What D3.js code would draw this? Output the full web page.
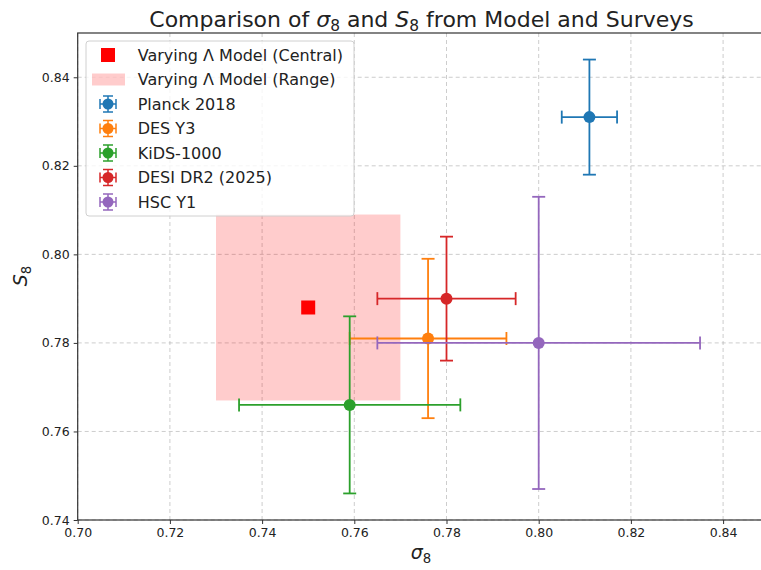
<!DOCTYPE html>
<html>
<head>
<meta charset="utf-8">
<script src="https://cdn.jsdelivr.net/npm/d3@7"></script>
<style>
  body { margin: 0; background: #fff; overflow: hidden; }
  text { font-family: "DejaVu Sans", sans-serif; fill: #222; }
</style>
</head>
<body>
<script>
// survey points
var surveys = ["Planck 2018", "DES Y3", "KiDS-1000", "DESI DR2 (2025)", "HSC Y1"];
var sigma8 = [0.811, 0.776, 0.759, 0.780, 0.800];
var sigma8Err = [0.006, 0.017, 0.024, 0.015, 0.035];
var s8 = [0.831, 0.781, 0.766, 0.790, 0.780];
var s8Err = [0.013, 0.018, 0.020, 0.014, 0.033];
var colors = ["#1f77b4", "#ff7f0e", "#2ca02c", "#d62728", "#9467bd"];

// model
var modelCentral = [0.750, 0.788];
var modelSigmaRange = [0.730, 0.770];
var modelS8Range = [0.767, 0.809];

var xTicks = [0.70, 0.72, 0.74, 0.76, 0.78, 0.80, 0.82, 0.84];
var yTicks = [0.74, 0.76, 0.78, 0.80, 0.82, 0.84];

var W = 761, H = 570;
var x = d3.scaleLinear().domain([0.70, 0.85]).range([77.7, 769.2]);
var y = d3.scaleLinear().domain([0.74, 0.850]).range([520, 33]);

var svg = d3.select("body").append("svg")
    .attr("width", W).attr("height", H);

// grid
var grid = svg.append("g");
grid.selectAll(".gx").data(xTicks).enter().append("line")
    .attr("x1", d => x(d)).attr("x2", d => x(d))
    .attr("y1", y.range()[0]).attr("y2", y.range()[1])
    .attr("stroke", "#b0b0b0").attr("stroke-opacity", 0.7)
    .attr("stroke-dasharray", "4,3").attr("stroke-width", 0.9);
grid.selectAll(".gy").data(yTicks).enter().append("line")
    .attr("y1", d => y(d)).attr("y2", d => y(d))
    .attr("x1", x.range()[0]).attr("x2", x.range()[1])
    .attr("stroke", "#b0b0b0").attr("stroke-opacity", 0.7)
    .attr("stroke-dasharray", "4,3").attr("stroke-width", 0.9);

// model range box
svg.append("rect")
    .attr("x", x(modelSigmaRange[0]))
    .attr("y", y(modelS8Range[1]))
    .attr("width", x(modelSigmaRange[1]) - x(modelSigmaRange[0]))
    .attr("height", y(modelS8Range[0]) - y(modelS8Range[1]))
    .attr("fill", "red").attr("fill-opacity", 0.2);

// central square
svg.append("rect")
    .attr("x", x(modelCentral[0]) - 7).attr("y", y(modelCentral[1]) - 7)
    .attr("width", 14).attr("height", 14)
    .attr("fill", "red");

// error bars
var cap = 6.5;
var pts = surveys.map(function(s, i) {
  return {name: s, x: sigma8[i], xe: sigma8Err[i], y: s8[i], ye: s8Err[i], c: colors[i]};
});
var eb = svg.selectAll(".eb").data(pts).enter().append("g")
    .attr("stroke", d => d.c).attr("stroke-width", 1.8);
eb.append("line")
    .attr("x1", d => x(d.x - d.xe)).attr("x2", d => x(d.x + d.xe))
    .attr("y1", d => y(d.y)).attr("y2", d => y(d.y));
eb.append("line")
    .attr("x1", d => x(d.x)).attr("x2", d => x(d.x))
    .attr("y1", d => y(d.y - d.ye)).attr("y2", d => y(d.y + d.ye));
[-1, 1].forEach(function(s) {
  eb.append("line")
    .attr("x1", d => x(d.x + s * d.xe)).attr("x2", d => x(d.x + s * d.xe))
    .attr("y1", d => y(d.y) - cap).attr("y2", d => y(d.y) + cap);
  eb.append("line")
    .attr("y1", d => y(d.y + s * d.ye)).attr("y2", d => y(d.y + s * d.ye))
    .attr("x1", d => x(d.x) - cap).attr("x2", d => x(d.x) + cap);
});
eb.append("circle")
    .attr("cx", d => x(d.x)).attr("cy", d => y(d.y)).attr("r", 6)
    .attr("fill", d => d.c).attr("stroke", "none");

// axes
var xAxis = svg.append("g").attr("transform", "translate(0," + y.range()[0] + ")")
    .call(d3.axisBottom(x).tickValues(xTicks).tickFormat(d3.format(".2f")).tickSize(4).tickPadding(4));
var yAxis = svg.append("g").attr("transform", "translate(" + x.range()[0] + ",0)")
    .call(d3.axisLeft(y).tickValues(yTicks).tickFormat(d3.format(".2f")).tickSize(4).tickPadding(4));
[xAxis, yAxis].forEach(function(a) {
  a.select(".domain").remove();
  a.selectAll("text").attr("font-size", 12.5).attr("font-family", "DejaVu Sans").attr("fill", "#222");
  a.selectAll(".tick line").attr("stroke", "#333");
});
// frame
svg.append("rect")
    .attr("x", x.range()[0]).attr("y", y.range()[1])
    .attr("width", x.range()[1] - x.range()[0])
    .attr("height", y.range()[0] - y.range()[1])
    .attr("fill", "none").attr("stroke", "#333").attr("stroke-width", 1.2);

// title and labels
function sub(t, parts, size) {
  parts.forEach(function(p) {
    var ts = t.append("tspan").text(p.t);
    if (p.i) ts.attr("font-style", "italic");
    if (p.s) ts.attr("font-size", size * 0.7).attr("dy", size * 0.2);
    if (p.r) ts.attr("dy", -size * 0.2);
  });
}
var title = svg.append("text").attr("x", 421.5).attr("y", 27)
    .attr("text-anchor", "middle").attr("font-size", 22);
sub(title, [{t: "Comparison of "}, {t: "σ", i: 1}, {t: "8", s: 1},
            {t: " and ", r: 1}, {t: "S", i: 1}, {t: "8", s: 1},
            {t: " from Model and Surveys", r: 1}], 22);

var xl = svg.append("text").attr("x", 421).attr("y", 559)
    .attr("text-anchor", "middle").attr("font-size", 19);
sub(xl, [{t: "σ", i: 1}, {t: "8", s: 1}], 19);
var yl = svg.append("text").attr("transform", "translate(27,276) rotate(-90)")
    .attr("text-anchor", "middle").attr("font-size", 19);
sub(yl, [{t: "S", i: 1}, {t: "8", s: 1}], 19);

// legend
var lg = svg.append("g");
lg.append("rect").attr("x", 86).attr("y", 41).attr("width", 268).attr("height", 175)
    .attr("rx", 3).attr("fill", "#fff").attr("fill-opacity", 0.8)
    .attr("stroke", "#d0d0d0");
var labels = ["Varying Λ Model (Central)", "Varying Λ Model (Range)"].concat(surveys);
var rowY = d => 55 + d * 24.5;
labels.forEach(function(l, i) {
  lg.append("text").attr("x", 137.7).attr("y", rowY(i)).attr("dy", "0.36em")
    .attr("font-size", 16).text(l);
});
lg.append("rect").attr("x", 101).attr("y", rowY(0) - 7).attr("width", 14).attr("height", 14)
    .attr("fill", "red");
lg.append("rect").attr("x", 92).attr("y", rowY(1) - 6).attr("width", 33).attr("height", 12)
    .attr("fill", "red").attr("fill-opacity", 0.2);
pts.forEach(function(p, i) {
  var g = lg.append("g").attr("transform", "translate(108," + rowY(i + 2) + ")")
      .attr("stroke", p.c).attr("stroke-width", 1.5);
  g.append("line").attr("x1", -8).attr("x2", 8);
  g.append("line").attr("y1", -8).attr("y2", 8);
  g.append("line").attr("x1", -8).attr("x2", -8).attr("y1", -5).attr("y2", 5);
  g.append("line").attr("x1", 8).attr("x2", 8).attr("y1", -5).attr("y2", 5);
  g.append("line").attr("y1", -8).attr("y2", -8).attr("x1", -5).attr("x2", 5);
  g.append("line").attr("y1", 8).attr("y2", 8).attr("x1", -5).attr("x2", 5);
  g.append("circle").attr("r", 5.5).attr("fill", p.c).attr("stroke", "none");
});
</script>
</body>
</html>
